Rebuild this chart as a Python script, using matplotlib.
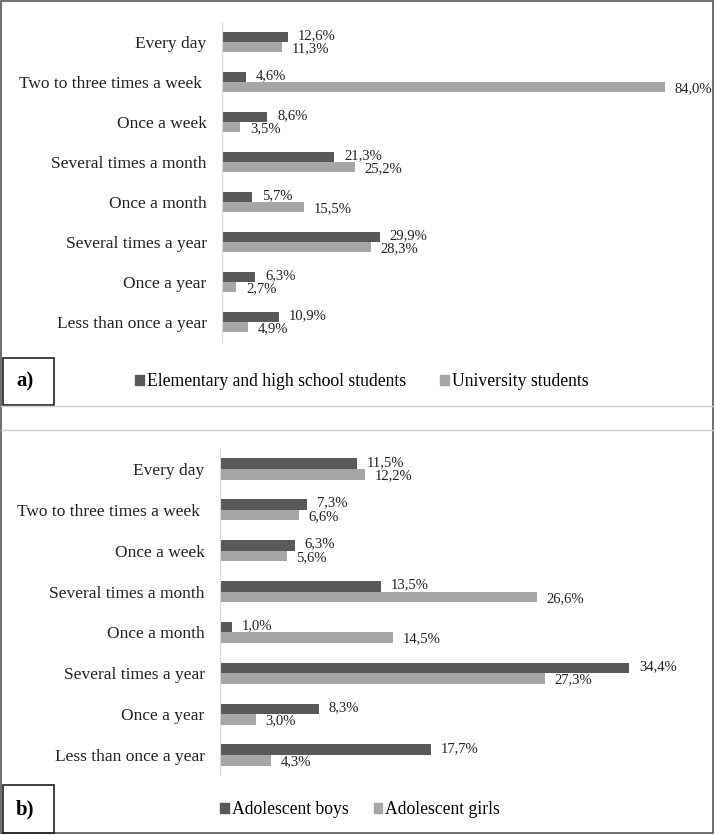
import numpy as np
import matplotlib.pyplot as plt
from matplotlib.patches import Patch, Rectangle
from matplotlib.lines import Line2D

# frequency categories (top to bottom)
categories = ["Every day", "Two to three times a week ", "Once a week",
              "Several times a month", "Once a month", "Several times a year",
              "Once a year", "Less than once a year"]

# panel a) - school vs university
school = [12.6, 4.6, 8.6, 21.3, 5.7, 29.9, 6.3, 10.9]
university = [11.3, 84.0, 3.5, 25.2, 15.5, 28.3, 2.7, 4.9]

# panel b) - boys vs girls
boys = [11.5, 7.3, 6.3, 13.5, 1.0, 34.4, 8.3, 17.7]
girls = [12.2, 6.6, 5.6, 26.6, 14.5, 27.3, 3.0, 4.3]

DARK = "#595959"
LIGHT = "#a6a6a6"
W, H = 715, 835

plt.rcParams["font.family"] = ["Liberation Serif", "DejaVu Serif"]

fig = plt.figure(figsize=(W / 100, H / 100), dpi=100)


def px_axes(left, top, right, bottom):
    return fig.add_axes([left / W, 1 - bottom / H, (right - left) / W, (bottom - top) / H])


def panel(ax, vals1, vals2, xmax):
    y = np.arange(len(categories))
    h = 0.26
    ax.barh(y - h / 2, vals1, height=h, color=DARK)
    ax.barh(y + h / 2, vals2, height=h, color=LIGHT)
    for yi, v in zip(y, vals1):
        ax.annotate(f"{v:.1f}%".replace(".", ","), (v, yi - h / 2), xytext=(7, 1),
                    textcoords="offset points", va="center", ha="left",
                    fontsize=10.5, color="#222222")
    for yi, v in zip(y, vals2):
        ax.annotate(f"{v:.1f}%".replace(".", ","), (v, yi + h / 2), xytext=(7, -1),
                    textcoords="offset points", va="center", ha="left",
                    fontsize=10.5, color="#222222")
    ax.set_ylim(len(categories) - 0.5, -0.5)
    ax.set_xlim(0, xmax)
    ax.set_yticks(y)
    ax.set_yticklabels(categories, fontsize=12.5, color="#222222")
    ax.tick_params(axis="y", length=0, pad=11)
    ax.set_xticks([])
    for s in ["top", "right", "bottom"]:
        ax.spines[s].set_visible(False)
    ax.spines["left"].set_color("#d9d9d9")
    ax.patch.set_alpha(0)


ax1 = px_axes(222, 22, 700, 342)
panel(ax1, school, university, 478 / 5.27)

ax2 = px_axes(220, 448.6, 700, 775.4)
panel(ax2, boys, girls, 480 / 11.9)

# legends
h1 = [Patch(color=DARK), Patch(color=LIGHT)]
fig.legend(h1, ["Elementary and high school students", "University students"],
           loc="center left", bbox_to_anchor=(135 / W, 1 - 382 / H), ncol=2,
           frameon=False, fontsize=12.7, handlelength=0.5, handleheight=0.5,
           handletextpad=0.17, columnspacing=1.93, borderpad=0, borderaxespad=0)
fig.legend(h1, ["Adolescent boys", "Adolescent girls"],
           loc="center left", bbox_to_anchor=(220 / W, 1 - 810 / H), ncol=2,
           frameon=False, fontsize=12.7, handlelength=0.5, handleheight=0.5,
           handletextpad=0.17, columnspacing=1.42, borderpad=0, borderaxespad=0)

# frames
def frame(x0, y0, x1, y1, color, lw):
    fig.add_artist(Rectangle((x0 / W, 1 - y1 / H), (x1 - x0) / W, (y1 - y0) / H,
                             transform=fig.transFigure, fill=False,
                             edgecolor=color, linewidth=lw))

frame(1, 1, 713, 833, "#555555", 1.2)
for yy in (406, 430):
    fig.add_artist(Line2D([1 / W, 713 / W], [1 - yy / H, 1 - yy / H],
                          transform=fig.transFigure, color="#d0d0d0", lw=1))

frame(3, 358, 54, 405, "#222222", 1.2)
frame(3, 785, 54, 833, "#222222", 1.2)
fig.text(16 / W, 1 - 381 / H, "a)", fontsize=15, fontweight="bold", va="center", ha="left")
fig.text(16 / W, 1 - 809 / H, "b)", fontsize=15, fontweight="bold", va="center", ha="left")

fig.savefig("out.png", dpi=100)
